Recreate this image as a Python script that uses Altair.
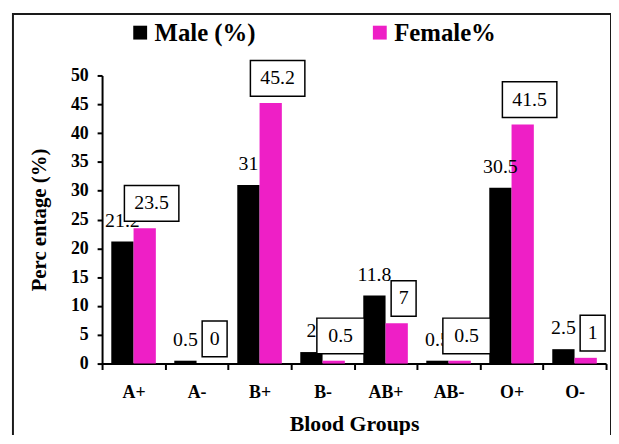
import altair as alt
import pandas as pd

groups = ["A+", "A-", "B+", "B-", "AB+", "AB-", "O+", "O-"]
male = [21.2, 0.5, 31, 2, 11.8, 0.5, 30.5, 2.5]
female = [23.5, 0, 45.2, 0.5, 7, 0.5, 41.5, 1]
series = ["Male (%)", "Female%"]
colors = ["#000000", "#EE1FC6"]
y_ticks = [0, 5, 10, 15, 20, 25, 30, 35, 40, 45, 50]

rows = []
for g, m, f in zip(groups, male, female):
    rows.append({"group": g, "sex": series[0], "value": m})
    rows.append({"group": g, "sex": series[1], "value": f})
df = pd.DataFrame(rows)

FONT = "Liberation Serif"

# label boxes: custom symbol paths (normalized, scaled by sqrt(size)/2 = 30px)
def box(halfw):
    cx, cy, hh = 0.2333, -0.8333, 0.6
    x0, x1 = cx - halfw, cx + halfw
    y0, y1 = cy - hh, cy + hh
    return f"M{x0:.4f},{y0:.4f}L{x1:.4f},{y0:.4f}L{x1:.4f},{y1:.4f}L{x0:.4f},{y1:.4f}Z"

box_keys = ["n1", "n3", "n4"]
box_paths = [box(0.42), box(0.80), box(0.9167)]

x_enc = alt.X("group:N", sort=groups,
              scale=alt.Scale(paddingInner=0, paddingOuter=0),
              axis=alt.Axis(title="Blood Groups", labelAngle=0, tickBand="extent",
                            labelFont=FONT, labelFontSize=18, labelFontWeight="bold",
                            labelColor="black", labelPadding=14,
                            titleFont=FONT, titleFontSize=22, titleFontWeight="bold",
                            titleColor="black", titlePadding=13,
                            domainColor="black", domainWidth=2,
                            tickColor="black", tickWidth=2, tickSize=6))
xo_enc = alt.XOffset("sex:N", sort=series,
                     scale=alt.Scale(domain=series, paddingInner=0, paddingOuter=0.414))
y_enc = alt.Y("value:Q",
              scale=alt.Scale(domain=[0, 50], nice=False),
              axis=alt.Axis(title="Perc entage (%)", values=y_ticks, grid=False,
                            labelFont=FONT, labelFontSize=18, labelFontWeight="bold",
                            labelColor="black", labelPadding=9,
                            titleFont=FONT, titleFontSize=21, titleFontWeight="bold",
                            titleColor="black", titlePadding=21,
                            domainColor="black", domainWidth=2,
                            tickColor="black", tickWidth=2, tickSize=5))

base = alt.Chart(df).transform_calculate(
    label="toString(datum.value)",
    nkey="'n' + length(toString(datum.value))",
)

bars = base.mark_bar().encode(
    x=x_enc, xOffset=xo_enc, y=y_enc,
    color=alt.Color("sex:N", sort=series,
                    scale=alt.Scale(domain=series, range=colors),
                    legend=alt.Legend(title=None, orient="none", direction="horizontal",
                                      legendX=26, legendY=-56,
                                      symbolType="square", symbolSize=196,
                                      symbolStrokeWidth=0, labelOffset=2,
                                      labelFont=FONT, labelFontSize=25,
                                      labelFontWeight="bold", labelColor="black",
                                      columnPadding=112, padding=0)),
)

male_text = base.transform_filter(alt.datum.sex == series[0]).mark_text(
    font=FONT, fontSize=20, color="black", align="center", baseline="alphabetic", dy=-15
).encode(x=x_enc, xOffset=xo_enc, y=y_enc, text="label:N")

female_box = base.transform_filter(alt.datum.sex == series[1]).mark_point(
    filled=True, fill="white", stroke="black", strokeWidth=1.5, size=3600, opacity=1
).encode(x=x_enc, xOffset=xo_enc, y=y_enc,
         shape=alt.Shape("nkey:N", scale=alt.Scale(domain=box_keys, range=box_paths),
                         legend=None))

female_text = base.transform_filter(alt.datum.sex == series[1]).mark_text(
    font=FONT, fontSize=20, color="black", align="center", baseline="middle", dx=7, dy=-25
).encode(x=x_enc, xOffset=xo_enc, y=y_enc, text="label:N")

frame = alt.Chart(alt.Data(values=[{"a": 1}])).mark_rect(
    filled=False, stroke="#1a1a1a", strokeWidth=2
).encode(x=alt.value(-90), x2=alt.value(514), y=alt.value(-62), y2=alt.value(390))

chart = alt.layer(bars, male_text, female_box, female_text, frame).properties(
    width=509, height=291,
    autosize=alt.AutoSizeParams(type="none"),
    padding={"left": 95, "top": 66, "right": 5, "bottom": 70},
).configure_view(stroke=None)

chart.save("out.html", embed_options={"renderer": "svg", "actions": False})
